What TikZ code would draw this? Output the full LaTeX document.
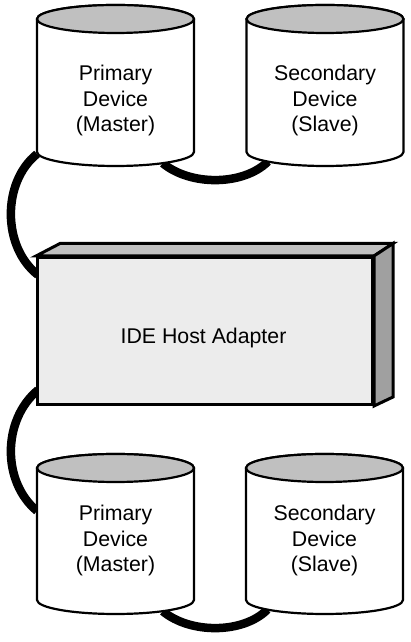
\documentclass[tikz,border=0pt]{standalone}
\usepackage{fontspec}
\setmainfont{Liberation Sans}
\definecolor{topgray}{HTML}{C0C0C0}
\definecolor{frontgray}{HTML}{ECECEC}
\definecolor{sidegray}{HTML}{A0A0A0}
\newcommand\drum[4]{% #1 name, #2 centre x, #3 top ellipse y, #4 bottom ellipse y
  \draw[cylbody] (#2-78.5,#4) -- (#2-78.5,#3)
     arc[start angle=180,end angle=0,x radius=78.5pt,y radius=14pt]
     -- (#2+78.5,#4)
     arc[start angle=0,end angle=-180,x radius=78.5pt,y radius=14pt] -- cycle;
  \draw[cyltop] (#2,#3) ellipse[x radius=78.5pt,y radius=14pt];
}
\begin{document}
\begin{tikzpicture}[x=1pt,y=1pt,
  cylbody/.style={line width=2.2pt, fill=white, line join=round},
  cyltop/.style={line width=2.2pt, fill=topgray},
  cable/.style={line width=8.5pt, line cap=butt},
  lbl/.style={align=center, font=\fontsize{21.3}{25.5}\selectfont, inner sep=0pt},
  face/.style={draw, line width=3pt, line join=miter}]
\useasboundingbox (0,0) rectangle (410,642);

% cable end points
\coordinate (d1b) at (115.5,490);
\coordinate (d2b) at (325,490);
\coordinate (d3b) at (115.5,42);
\coordinate (d4b) at (324.5,42);
\coordinate (d1w) at (37,488);
\coordinate (d3w) at (37,131);
\coordinate (hw1) at (38,367);
\coordinate (hw2) at (38,252);

% cables (behind drums and adapter)
\draw[cable] (d1w) .. controls (2,460) and (2,395) .. (hw1);
\draw[cable] (hw2) .. controls (2,222) and (2,160) .. (d3w);
\draw[cable] ([shift={(-53:78.5pt and 14pt)}]d1b) .. controls (190,456) and (243,456) .. ([shift={(-137:78pt and 14pt)}]d2b);
\draw[cable] ([shift={(-53:78.5pt and 14pt)}]d3b) .. controls (190,8) and (243,8) .. ([shift={(-137:78pt and 14pt)}]d4b);

% drums
\drum{d1}{115.5}{623}{490}
\drum{d2}{325}{623}{490}
\drum{d3}{115.5}{174}{42}
\drum{d4}{324.5}{174}{42}

\node[lbl] (pm1) at (115.5,541.5) {Primary\\Device\\(Master)};
\node[lbl] (sd1) at (325,541.5) {Secondary\\Device\\(Slave)};
\node[lbl] (pm2) at (115.5,101.5) {Primary\\Device\\(Master)};
\node[lbl] (sd2) at (324.5,101.5) {Secondary\\Device\\(Slave)};

% host adapter
\node[face, fill=frontgray, minimum width=335pt, minimum height=147pt,
      anchor=north west, inner sep=0pt] (host) at (36,386) {};
\draw[face, fill=topgray] (host.north west) -- ++(24,12.5)
   -- ([shift={(19,12.5)}]host.north east) -- (host.north east) -- cycle;
\draw[face, fill=sidegray] (host.north east) -- ++(19,12.5)
   -- ([shift={(19,9)}]host.south east) -- (host.south east) -- cycle;
\node[lbl] (hostlbl) at (203.5,304.5) {IDE Host Adapter};
\end{tikzpicture}
\end{document}
